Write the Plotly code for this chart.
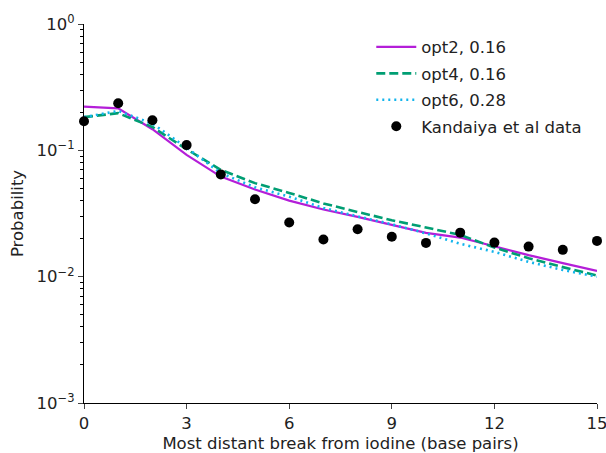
import plotly.graph_objects as go

x = list(range(16))
opt2 = [0.222, 0.215, 0.147, 0.092, 0.062, 0.049, 0.040, 0.034, 0.0297, 0.0257, 0.0222,
        0.0204, 0.0173, 0.0148, 0.0128, 0.0111]
opt4 = [0.183, 0.197, 0.153, 0.102, 0.070, 0.055, 0.046, 0.038, 0.0325, 0.028, 0.0245,
        0.0214, 0.0170, 0.0140, 0.0119, 0.0102]
opt6 = [0.183, 0.205, 0.163, 0.105, 0.066, 0.051, 0.043, 0.035, 0.030, 0.026, 0.022,
        0.0182, 0.0157, 0.0131, 0.0113, 0.0100]
kandaiya = [0.170, 0.236, 0.173, 0.110, 0.0645, 0.041, 0.0268, 0.0197, 0.0237, 0.0207,
            0.0185, 0.0223, 0.0186, 0.0173, 0.0163, 0.0192]

names = ["opt2, 0.16", "opt4, 0.16", "opt6, 0.28", "Kandaiya et al data"]
x_ticks = [0, 3, 6, 9, 12, 15]
y_ticks = [1e-3, 1e-2, 1e-1, 1]
y_ticklabels = ["10<sup>−3</sup>", "10<sup>−2</sup>", "10<sup>−1</sup>", "10<sup>0</sup>"]
minor_digits = [2, 3, 4, 5, 6, 7, 8, 9]
y_minor = [d * base for base in (1e-3, 1e-2, 1e-1) for d in minor_digits]

FS = 16.5

fig = go.Figure()
fig.add_trace(go.Scatter(x=x, y=opt2, mode="lines", name=names[0], legendgroup="a",
                         line=dict(color="#b41ed8", width=2.2), cliponaxis=False))
fig.add_trace(go.Scatter(x=x, y=opt4, mode="lines", name=names[1], legendgroup="b",
                         line=dict(color="#009e73", width=2.6, dash="9px,4px"), cliponaxis=False))
fig.add_trace(go.Scatter(x=x, y=opt6, mode="lines", name=names[2], legendgroup="c",
                         line=dict(color="#12b4ec", width=2.6, dash="2px,4px"), cliponaxis=False))
fig.add_trace(go.Scatter(x=x, y=kandaiya, mode="markers", name=names[3], legendgroup="d",
                         marker=dict(color="black", size=10), cliponaxis=False))

fig.update_layout(
    width=606, height=453,
    margin=dict(l=84, r=9, t=24, b=50, autoexpand=False),
    paper_bgcolor="white", plot_bgcolor="white",
    font=dict(family="DejaVu Sans", size=FS, color="#222"),
    showlegend=True,
    legend=dict(x=0.56, y=0.985, xanchor="left", yanchor="top",
                bgcolor="rgba(0,0,0,0)", font=dict(size=FS),
                itemwidth=40, tracegroupgap=2),
)
fig.update_xaxes(range=[0, 15], tickvals=x_ticks, ticks="outside", ticklen=5,
                 showline=True, linecolor="black", linewidth=1.2, showgrid=False,
                 zeroline=False, tickfont=dict(size=FS), automargin=False,
                 ticklabeloverflow="allow",
                 title=dict(text="Most distant break from iodine (base pairs)",
                            font=dict(size=FS), standoff=5))
fig.update_yaxes(type="log", range=[-3, 0], tickvals=y_ticks, ticktext=y_ticklabels,
                 ticks="outside", ticklen=5, showline=True, linecolor="black",
                 linewidth=1.2, showgrid=False, zeroline=False, tickfont=dict(size=FS),
                 automargin=False,
                 minor=dict(tickvals=y_minor, ticks="outside", ticklen=3,
                            tickcolor="black", showgrid=False),
                 title=dict(text="Probability", font=dict(size=FS), standoff=8))

fig.write_html("out.html", config={"displayModeBar": False},
               post_script="document.body.style.margin='0';")
